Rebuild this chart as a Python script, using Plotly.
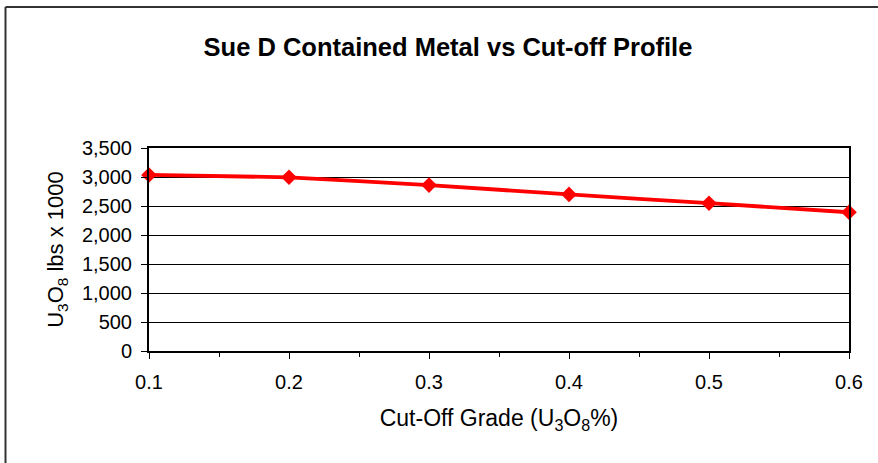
import plotly.graph_objects as go

cutoff = [0.1, 0.2, 0.3, 0.4, 0.5, 0.6]
metal = [3035, 2995, 2860, 2700, 2548, 2392]

W, H = 878, 463
L, R, T, B = 149, 29, 148, 112
pw, ph = W - L - R, H - T - B

fig = go.Figure()
fig.add_trace(go.Scatter(
    x=cutoff, y=metal, mode="lines+markers",
    line=dict(color="#ff0000", width=3.8, shape="spline", smoothing=0.3),
    marker=dict(symbol="diamond", size=12, color="#ff0000"),
    cliponaxis=False, showlegend=False,
))

font = "Liberation Sans, Arial, sans-serif"

def px2paperx(px):
    return (px - L) / pw

def px2papery(py):
    return (H - B - py) / ph

fig.update_layout(
    width=W, height=H,
    margin=dict(l=L, r=R, t=T, b=B),
    paper_bgcolor="white", plot_bgcolor="white",
    font=dict(family=font, color="black", size=20),
    title=dict(text="<b>Sue D Contained Metal vs Cut-off Profile</b>",
               x=px2paperx(448), xref="paper", xanchor="center",
               y=1 - 47 / H, yref="container", yanchor="middle",
               font=dict(size=25.5, family=font)),
    xaxis=dict(range=[0.1, 0.6], tickvals=cutoff, ticktext=["0.1", "0.2", "0.3", "0.4", "0.5", "0.6"],
               ticks="outside", ticklen=6, tickcolor="black", tickwidth=1,
               ticklabelstandoff=6,
               minor=dict(dtick=0.05, ticks="outside", ticklen=4, tickcolor="black", showgrid=False),
               showline=True, linecolor="black", linewidth=2, mirror=True,
               showgrid=False, zeroline=False,
               tickfont=dict(size=20),
               title=dict(text="Cut-Off Grade (U<sub>3</sub>O<sub>8</sub>%)", font=dict(size=23), standoff=18)),
    yaxis=dict(range=[0, 3500], dtick=500, tickformat=",d",
               ticks="outside", ticklen=6, tickcolor="black",
               ticklabelstandoff=5,
               showline=True, linecolor="black", linewidth=2, mirror=True,
               showgrid=True, gridcolor="black", gridwidth=1, zeroline=False,
               tickfont=dict(size=20),
               title=dict(text="U<sub>3</sub>O<sub>8</sub> lbs x 1000", font=dict(size=22), standoff=12)),
    shapes=[
        dict(type="line", xref="paper", yref="paper",
             x0=px2paperx(5.5), x1=px2paperx(5.5), y0=px2papery(7), y1=px2papery(470),
             line=dict(color="#333333", width=2)),
        dict(type="line", xref="paper", yref="paper",
             x0=px2paperx(5.5), x1=px2paperx(885), y0=px2papery(7), y1=px2papery(7),
             line=dict(color="#333333", width=2)),
    ],
)

fig.write_html("out.html", config={"displayModeBar": False},
               post_script="document.body.style.margin='0';document.body.style.overflow='hidden';")
